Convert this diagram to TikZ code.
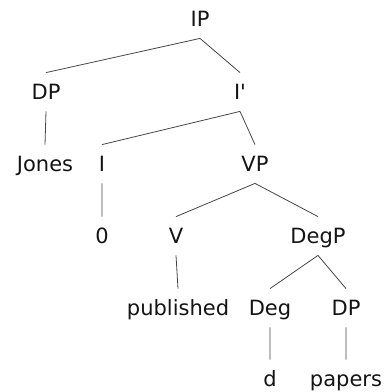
\documentclass[tikz,border=0pt]{standalone}
\usepackage{fontspec}
\setmainfont{DejaVu Sans}
\usepackage{tikz}
\usetikzlibrary{positioning}
\definecolor{branch}{RGB}{70,70,70}
\definecolor{label}{RGB}{20,20,20}
\tikzstyle{cat}=[text=label,inner xsep=0pt,inner ysep=11.5pt,text height=15pt,text depth=0pt]
\tikzset{every picture/.style={line width=0.8pt}}

\begin{document}
\begin{tikzpicture}[x=1pt,y=-1pt,font=\fontsize{21}{25}\selectfont]
\useasboundingbox (0,0) rectangle (385,392);
\node[cat] (IP) at (200,19) {IP};
\node[cat] (DP) at (46,92) {DP};
\node[cat] (I') at (240,92) {I\textquotesingle};
\node[cat] (Jones) at (45,164) {Jones};
\node[cat] (I) at (102,164) {I};
\node[cat] (VP) at (255,164) {VP};
\node[cat] (zero) at (102,236) {0};
\node[cat] (V) at (176,236) {V};
\node[cat] (DegP) at (318,236) {DegP};
\node[cat] (published) at (178,308) {published};
\node[cat] (Deg) at (270,308) {Deg};
\node[cat] (DP') at (346,308) {DP};
\node[cat] (d) at (270,379) {d};
\node[cat] (papers) at (346,379) {papers};
\path[draw=branch]
(IP.south) -- (DP.north)
(IP.south) -- (I'.north)
(DP.south) -- (Jones.north)
(I'.south) -- (I.north)
(I'.south) -- (VP.north)
(I.south) -- (zero.north)
(VP.south) -- (V.north)
(VP.south) -- (DegP.north)
(V.south) -- (published.north)
(DegP.south) -- (Deg.north)
(DegP.south) -- (DP'.north)
(Deg.south) -- (d.north)
(DP'.south) -- (papers.north);
\end{tikzpicture}
\end{document}
